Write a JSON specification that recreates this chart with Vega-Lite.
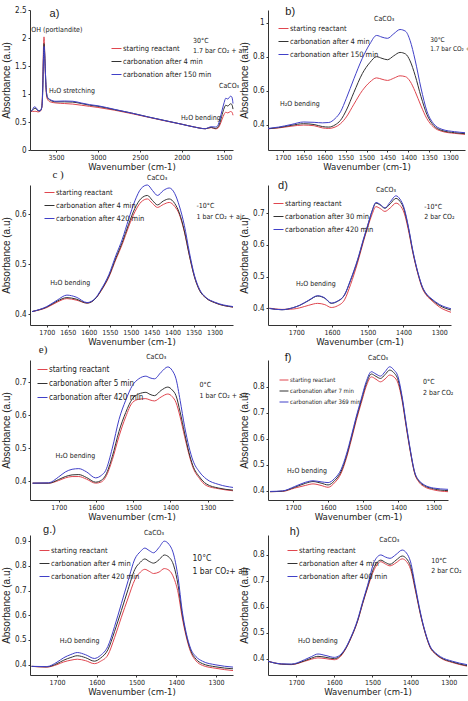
{
  "$schema": "https://vega.github.io/schema/vega-lite/v6.json",
  "background": "white",
  "padding": {"left": 1, "top": 6, "right": 0, "bottom": 0},
  "config": {
    "view": {"stroke": null},
    "axis": {
      "grid": false,
      "domainColor": "#333333",
      "tickColor": "#333333",
      "tickSize": 2,
      "labelOverlap": false,
      "labelFont": "Liberation Sans Narrow, Arial Narrow, DejaVu Sans Condensed, sans-serif",
      "labelFontSize": 8,
      "labelColor": "#222222",
      "titleColor": "#222222",
      "titleFontWeight": "normal"
    },
    "axisX": {
      "labelPadding": 1,
      "labelFontSize": 7,
      "format": "d",
      "titleFont": "Liberation Sans Narrow, Arial Narrow, DejaVu Sans Condensed, sans-serif",
      "titleFontSize": 9.5,
      "titlePadding": 1
    },
    "axisY": {
      "labelPadding": 2,
      "format": "~g",
      "titleFont": "Liberation Sans, Arial, sans-serif",
      "titleFontSize": 10,
      "titlePadding": 3
    },
    "legend": {
      "symbolType": "stroke",
      "symbolSize": 100,
      "symbolStrokeWidth": 1.1,
      "labelFont": "Liberation Sans Narrow, Arial Narrow, DejaVu Sans Condensed, sans-serif",
      "labelFontSize": 7.5,
      "labelColor": "#222222",
      "labelOffset": 1,
      "rowPadding": 4,
      "padding": 0,
      "labelLimit": 0
    },
    "line": {"strokeWidth": 1, "interpolate": "monotone", "clip": true},
    "text": {
      "font": "Liberation Sans Narrow, Arial Narrow, DejaVu Sans Condensed, sans-serif",
      "fontSize": 7,
      "color": "#222222"
    }
  },
  "datasets": {
    "a": [
      {"w": 3800, "r": 0.69, "k": 0.69, "b": 0.69},
      {"w": 3780, "r": 0.69, "k": 0.71, "b": 0.72},
      {"w": 3760, "r": 0.69, "k": 0.74, "b": 0.77},
      {"w": 3740, "r": 0.69, "k": 0.74, "b": 0.76},
      {"w": 3715, "r": 0.68, "k": 0.70, "b": 0.71},
      {"w": 3690, "r": 0.69, "k": 0.70, "b": 0.70},
      {"w": 3670, "r": 0.75, "k": 0.76, "b": 0.76},
      {"w": 3658, "r": 1.2, "k": 1.1, "b": 1.05},
      {"w": 3649, "r": 1.85, "k": 1.7, "b": 1.65},
      {"w": 3643, "r": 2.02, "k": 1.9, "b": 1.85},
      {"w": 3637, "r": 1.85, "k": 1.8, "b": 1.76},
      {"w": 3628, "r": 1.4, "k": 1.45, "b": 1.45},
      {"w": 3615, "r": 1.0, "k": 1.05, "b": 1.05},
      {"w": 3600, "r": 0.9, "k": 0.93, "b": 0.94},
      {"w": 3570, "r": 0.86, "k": 0.89, "b": 0.9},
      {"w": 3500, "r": 0.84, "k": 0.86, "b": 0.87},
      {"w": 3400, "r": 0.83, "k": 0.86, "b": 0.875},
      {"w": 3300, "r": 0.82, "k": 0.855, "b": 0.87},
      {"w": 3200, "r": 0.8, "k": 0.83, "b": 0.84},
      {"w": 3100, "r": 0.78, "k": 0.8, "b": 0.81},
      {"w": 3000, "r": 0.76, "k": 0.78, "b": 0.79},
      {"w": 2800, "r": 0.71, "k": 0.72, "b": 0.725},
      {"w": 2600, "r": 0.65, "k": 0.66, "b": 0.66},
      {"w": 2400, "r": 0.585, "k": 0.59, "b": 0.59},
      {"w": 2200, "r": 0.52, "k": 0.525, "b": 0.525},
      {"w": 2000, "r": 0.46, "k": 0.46, "b": 0.46},
      {"w": 1850, "r": 0.41, "k": 0.41, "b": 0.41},
      {"w": 1720, "r": 0.38, "k": 0.38, "b": 0.38},
      {"w": 1650, "r": 0.4, "k": 0.405, "b": 0.415},
      {"w": 1600, "r": 0.378, "k": 0.385, "b": 0.41},
      {"w": 1570, "r": 0.39, "k": 0.41, "b": 0.44},
      {"w": 1545, "r": 0.45, "k": 0.49, "b": 0.56},
      {"w": 1520, "r": 0.55, "k": 0.63, "b": 0.71},
      {"w": 1495, "r": 0.64, "k": 0.75, "b": 0.85},
      {"w": 1476, "r": 0.675, "k": 0.8, "b": 0.925},
      {"w": 1452, "r": 0.662, "k": 0.785, "b": 0.91},
      {"w": 1420, "r": 0.687, "k": 0.825, "b": 0.96},
      {"w": 1405, "r": 0.68, "k": 0.815, "b": 0.95},
      {"w": 1395, "r": 0.65, "k": 0.77, "b": 0.89},
      {"w": 1390, "r": 0.62, "k": 0.73, "b": 0.83}
    ],
    "b": [
      {"w": 1735, "r": 0.375, "k": 0.375, "b": 0.377},
      {"w": 1710, "r": 0.38, "k": 0.382, "b": 0.385},
      {"w": 1680, "r": 0.39, "k": 0.395, "b": 0.4},
      {"w": 1650, "r": 0.397, "k": 0.405, "b": 0.415},
      {"w": 1625, "r": 0.393, "k": 0.4, "b": 0.413},
      {"w": 1605, "r": 0.38, "k": 0.388, "b": 0.41},
      {"w": 1590, "r": 0.377, "k": 0.385, "b": 0.412},
      {"w": 1575, "r": 0.385, "k": 0.398, "b": 0.435},
      {"w": 1562, "r": 0.405, "k": 0.425, "b": 0.475},
      {"w": 1548, "r": 0.445, "k": 0.485, "b": 0.555},
      {"w": 1530, "r": 0.52, "k": 0.59, "b": 0.67},
      {"w": 1510, "r": 0.6, "k": 0.7, "b": 0.79},
      {"w": 1492, "r": 0.65, "k": 0.765, "b": 0.875},
      {"w": 1476, "r": 0.675, "k": 0.8, "b": 0.925},
      {"w": 1463, "r": 0.667, "k": 0.79, "b": 0.915},
      {"w": 1450, "r": 0.66, "k": 0.782, "b": 0.908},
      {"w": 1435, "r": 0.673, "k": 0.805, "b": 0.935},
      {"w": 1420, "r": 0.687, "k": 0.825, "b": 0.96},
      {"w": 1407, "r": 0.682, "k": 0.816, "b": 0.95},
      {"w": 1396, "r": 0.655, "k": 0.775, "b": 0.895},
      {"w": 1384, "r": 0.595, "k": 0.69, "b": 0.78},
      {"w": 1370, "r": 0.51, "k": 0.565, "b": 0.615},
      {"w": 1356, "r": 0.435, "k": 0.46, "b": 0.48},
      {"w": 1340, "r": 0.385, "k": 0.395, "b": 0.405},
      {"w": 1320, "r": 0.36, "k": 0.365, "b": 0.372},
      {"w": 1290, "r": 0.348, "k": 0.352, "b": 0.358},
      {"w": 1265, "r": 0.342, "k": 0.346, "b": 0.352}
    ],
    "c": [
      {"w": 1735, "r": 0.405, "k": 0.405, "b": 0.405},
      {"w": 1700, "r": 0.413, "k": 0.414, "b": 0.415},
      {"w": 1675, "r": 0.424, "k": 0.426, "b": 0.428},
      {"w": 1652, "r": 0.431, "k": 0.433, "b": 0.438},
      {"w": 1630, "r": 0.428, "k": 0.43, "b": 0.434},
      {"w": 1604, "r": 0.422, "k": 0.422, "b": 0.423},
      {"w": 1585, "r": 0.43, "k": 0.43, "b": 0.431},
      {"w": 1570, "r": 0.447, "k": 0.448, "b": 0.45},
      {"w": 1552, "r": 0.474, "k": 0.476, "b": 0.479},
      {"w": 1535, "r": 0.51, "k": 0.513, "b": 0.518},
      {"w": 1520, "r": 0.54, "k": 0.544, "b": 0.55},
      {"w": 1505, "r": 0.575, "k": 0.58, "b": 0.59},
      {"w": 1490, "r": 0.605, "k": 0.612, "b": 0.627},
      {"w": 1475, "r": 0.625, "k": 0.632, "b": 0.652},
      {"w": 1460, "r": 0.631, "k": 0.638, "b": 0.659},
      {"w": 1448, "r": 0.622, "k": 0.628, "b": 0.648},
      {"w": 1436, "r": 0.614, "k": 0.619, "b": 0.638},
      {"w": 1422, "r": 0.62, "k": 0.627, "b": 0.648},
      {"w": 1408, "r": 0.624, "k": 0.631, "b": 0.653},
      {"w": 1395, "r": 0.616, "k": 0.622, "b": 0.642},
      {"w": 1384, "r": 0.6, "k": 0.603, "b": 0.617},
      {"w": 1372, "r": 0.565, "k": 0.567, "b": 0.578},
      {"w": 1360, "r": 0.517, "k": 0.518, "b": 0.524},
      {"w": 1348, "r": 0.475, "k": 0.475, "b": 0.478},
      {"w": 1336, "r": 0.448, "k": 0.448, "b": 0.45},
      {"w": 1320, "r": 0.432, "k": 0.432, "b": 0.433},
      {"w": 1300, "r": 0.423, "k": 0.423, "b": 0.424},
      {"w": 1256, "r": 0.414, "k": 0.414, "b": 0.415}
    ],
    "d": [
      {"w": 1775, "r": 0.401, "k": 0.4, "b": 0.4},
      {"w": 1740, "r": 0.397, "k": 0.396, "b": 0.396},
      {"w": 1710, "r": 0.398, "k": 0.402, "b": 0.402},
      {"w": 1690, "r": 0.402, "k": 0.41, "b": 0.41},
      {"w": 1665, "r": 0.41, "k": 0.425, "b": 0.426},
      {"w": 1640, "r": 0.416, "k": 0.439, "b": 0.44},
      {"w": 1620, "r": 0.412, "k": 0.432, "b": 0.433},
      {"w": 1602, "r": 0.403, "k": 0.416, "b": 0.417},
      {"w": 1585, "r": 0.408, "k": 0.422, "b": 0.423},
      {"w": 1565, "r": 0.427, "k": 0.442, "b": 0.443},
      {"w": 1548, "r": 0.475, "k": 0.488, "b": 0.49},
      {"w": 1528, "r": 0.545, "k": 0.552, "b": 0.555},
      {"w": 1512, "r": 0.61, "k": 0.615, "b": 0.618},
      {"w": 1500, "r": 0.655, "k": 0.66, "b": 0.662},
      {"w": 1488, "r": 0.695, "k": 0.705, "b": 0.706},
      {"w": 1477, "r": 0.72, "k": 0.731, "b": 0.733},
      {"w": 1465, "r": 0.714, "k": 0.725, "b": 0.727},
      {"w": 1452, "r": 0.705, "k": 0.715, "b": 0.716},
      {"w": 1437, "r": 0.716, "k": 0.729, "b": 0.735},
      {"w": 1421, "r": 0.731, "k": 0.746, "b": 0.754},
      {"w": 1410, "r": 0.724, "k": 0.737, "b": 0.744},
      {"w": 1398, "r": 0.7, "k": 0.71, "b": 0.715},
      {"w": 1386, "r": 0.645, "k": 0.652, "b": 0.656},
      {"w": 1374, "r": 0.576, "k": 0.58, "b": 0.583},
      {"w": 1360, "r": 0.51, "k": 0.513, "b": 0.515},
      {"w": 1347, "r": 0.463, "k": 0.466, "b": 0.468},
      {"w": 1335, "r": 0.44, "k": 0.443, "b": 0.445},
      {"w": 1323, "r": 0.427, "k": 0.43, "b": 0.432},
      {"w": 1300, "r": 0.405, "k": 0.41, "b": 0.413},
      {"w": 1267, "r": 0.388, "k": 0.395, "b": 0.399}
    ],
    "e": [
      {"w": 1770, "r": 0.394, "k": 0.394, "b": 0.394},
      {"w": 1727, "r": 0.394, "k": 0.394, "b": 0.395},
      {"w": 1700, "r": 0.402, "k": 0.405, "b": 0.413},
      {"w": 1682, "r": 0.41, "k": 0.414, "b": 0.428},
      {"w": 1664, "r": 0.414, "k": 0.419, "b": 0.436},
      {"w": 1646, "r": 0.414, "k": 0.42, "b": 0.438},
      {"w": 1625, "r": 0.406, "k": 0.411, "b": 0.428},
      {"w": 1601, "r": 0.394, "k": 0.397, "b": 0.41},
      {"w": 1585, "r": 0.398, "k": 0.403, "b": 0.418},
      {"w": 1574, "r": 0.412, "k": 0.418, "b": 0.432},
      {"w": 1556, "r": 0.465, "k": 0.475, "b": 0.5},
      {"w": 1538, "r": 0.536, "k": 0.551, "b": 0.587},
      {"w": 1520, "r": 0.595, "k": 0.608, "b": 0.645},
      {"w": 1502, "r": 0.638, "k": 0.65, "b": 0.69},
      {"w": 1485, "r": 0.648, "k": 0.664, "b": 0.71},
      {"w": 1466, "r": 0.65, "k": 0.669, "b": 0.718},
      {"w": 1455, "r": 0.646, "k": 0.663, "b": 0.713},
      {"w": 1443, "r": 0.643, "k": 0.659, "b": 0.71},
      {"w": 1425, "r": 0.655, "k": 0.675, "b": 0.73},
      {"w": 1407, "r": 0.664, "k": 0.685, "b": 0.746},
      {"w": 1395, "r": 0.656, "k": 0.676, "b": 0.735},
      {"w": 1385, "r": 0.638, "k": 0.659, "b": 0.71},
      {"w": 1374, "r": 0.595, "k": 0.61, "b": 0.645},
      {"w": 1362, "r": 0.536, "k": 0.546, "b": 0.566},
      {"w": 1350, "r": 0.48, "k": 0.486, "b": 0.503},
      {"w": 1340, "r": 0.443, "k": 0.448, "b": 0.464},
      {"w": 1322, "r": 0.408, "k": 0.413, "b": 0.428},
      {"w": 1304, "r": 0.387, "k": 0.392, "b": 0.407},
      {"w": 1270, "r": 0.377, "k": 0.379, "b": 0.39},
      {"w": 1232, "r": 0.371, "k": 0.373, "b": 0.381}
    ],
    "f": [
      {"w": 1765, "r": 0.396, "k": 0.396, "b": 0.397},
      {"w": 1730, "r": 0.397, "k": 0.398, "b": 0.399},
      {"w": 1695, "r": 0.41, "k": 0.413, "b": 0.416},
      {"w": 1665, "r": 0.42, "k": 0.428, "b": 0.432},
      {"w": 1643, "r": 0.426, "k": 0.435, "b": 0.438},
      {"w": 1620, "r": 0.42, "k": 0.429, "b": 0.434},
      {"w": 1600, "r": 0.413, "k": 0.422, "b": 0.431},
      {"w": 1582, "r": 0.43, "k": 0.438, "b": 0.446},
      {"w": 1563, "r": 0.467, "k": 0.474, "b": 0.482},
      {"w": 1548, "r": 0.525, "k": 0.532, "b": 0.54},
      {"w": 1534, "r": 0.595, "k": 0.603, "b": 0.61},
      {"w": 1520, "r": 0.67, "k": 0.678, "b": 0.685},
      {"w": 1506, "r": 0.736, "k": 0.745, "b": 0.752},
      {"w": 1492, "r": 0.8, "k": 0.81, "b": 0.818},
      {"w": 1477, "r": 0.838, "k": 0.849, "b": 0.858},
      {"w": 1464, "r": 0.829, "k": 0.84, "b": 0.849},
      {"w": 1451, "r": 0.819, "k": 0.832, "b": 0.841},
      {"w": 1438, "r": 0.83, "k": 0.847, "b": 0.858},
      {"w": 1425, "r": 0.845, "k": 0.864, "b": 0.877},
      {"w": 1413, "r": 0.838, "k": 0.854, "b": 0.865},
      {"w": 1401, "r": 0.813, "k": 0.826, "b": 0.838},
      {"w": 1390, "r": 0.75, "k": 0.758, "b": 0.766},
      {"w": 1378, "r": 0.646, "k": 0.652, "b": 0.658},
      {"w": 1366, "r": 0.548, "k": 0.552, "b": 0.556},
      {"w": 1354, "r": 0.467, "k": 0.47, "b": 0.473},
      {"w": 1340, "r": 0.43, "k": 0.434, "b": 0.437},
      {"w": 1326, "r": 0.415, "k": 0.419, "b": 0.422},
      {"w": 1300, "r": 0.403, "k": 0.407, "b": 0.41},
      {"w": 1259, "r": 0.396, "k": 0.4, "b": 0.405}
    ],
    "g": [
      {"w": 1764, "r": 0.393, "k": 0.393, "b": 0.393},
      {"w": 1726, "r": 0.39, "k": 0.391, "b": 0.392},
      {"w": 1700, "r": 0.4, "k": 0.404, "b": 0.41},
      {"w": 1683, "r": 0.411, "k": 0.418, "b": 0.428},
      {"w": 1665, "r": 0.418, "k": 0.429, "b": 0.441},
      {"w": 1649, "r": 0.422, "k": 0.436, "b": 0.449},
      {"w": 1628, "r": 0.416, "k": 0.428, "b": 0.44},
      {"w": 1606, "r": 0.404, "k": 0.414, "b": 0.425},
      {"w": 1590, "r": 0.414, "k": 0.427, "b": 0.438},
      {"w": 1572, "r": 0.439, "k": 0.46, "b": 0.474},
      {"w": 1555, "r": 0.51, "k": 0.535, "b": 0.555},
      {"w": 1538, "r": 0.592, "k": 0.619, "b": 0.647},
      {"w": 1521, "r": 0.67, "k": 0.705, "b": 0.74},
      {"w": 1504, "r": 0.744, "k": 0.786, "b": 0.828},
      {"w": 1490, "r": 0.775, "k": 0.815, "b": 0.858},
      {"w": 1479, "r": 0.786, "k": 0.828, "b": 0.872},
      {"w": 1468, "r": 0.778, "k": 0.818, "b": 0.862},
      {"w": 1457, "r": 0.769, "k": 0.811, "b": 0.853},
      {"w": 1443, "r": 0.775, "k": 0.825, "b": 0.875},
      {"w": 1430, "r": 0.789, "k": 0.844, "b": 0.9},
      {"w": 1418, "r": 0.782, "k": 0.835, "b": 0.887},
      {"w": 1406, "r": 0.751, "k": 0.8, "b": 0.844},
      {"w": 1395, "r": 0.69, "k": 0.72, "b": 0.75},
      {"w": 1385, "r": 0.592, "k": 0.606, "b": 0.619},
      {"w": 1375, "r": 0.515, "k": 0.523, "b": 0.53},
      {"w": 1364, "r": 0.453, "k": 0.46, "b": 0.467},
      {"w": 1350, "r": 0.415, "k": 0.422, "b": 0.432},
      {"w": 1334, "r": 0.397, "k": 0.404, "b": 0.414},
      {"w": 1300, "r": 0.385, "k": 0.391, "b": 0.399},
      {"w": 1257, "r": 0.376, "k": 0.383, "b": 0.39}
    ],
    "h": [
      {"w": 1774, "r": 0.39, "k": 0.39, "b": 0.39},
      {"w": 1739, "r": 0.379, "k": 0.379, "b": 0.38},
      {"w": 1713, "r": 0.377, "k": 0.378, "b": 0.379},
      {"w": 1678, "r": 0.39, "k": 0.392, "b": 0.396},
      {"w": 1660, "r": 0.398, "k": 0.402, "b": 0.408},
      {"w": 1643, "r": 0.403, "k": 0.409, "b": 0.418},
      {"w": 1622, "r": 0.4, "k": 0.405, "b": 0.412},
      {"w": 1600, "r": 0.396, "k": 0.4, "b": 0.405},
      {"w": 1586, "r": 0.405, "k": 0.409, "b": 0.413},
      {"w": 1574, "r": 0.428, "k": 0.43, "b": 0.433},
      {"w": 1556, "r": 0.48, "k": 0.482, "b": 0.485},
      {"w": 1539, "r": 0.544, "k": 0.546, "b": 0.55},
      {"w": 1526, "r": 0.61, "k": 0.613, "b": 0.618},
      {"w": 1513, "r": 0.672, "k": 0.676, "b": 0.682},
      {"w": 1495, "r": 0.745, "k": 0.755, "b": 0.775},
      {"w": 1478, "r": 0.774, "k": 0.78, "b": 0.8},
      {"w": 1466, "r": 0.765, "k": 0.771, "b": 0.792},
      {"w": 1454, "r": 0.758, "k": 0.764, "b": 0.787},
      {"w": 1438, "r": 0.77, "k": 0.78, "b": 0.802},
      {"w": 1422, "r": 0.785, "k": 0.796, "b": 0.819},
      {"w": 1411, "r": 0.775, "k": 0.786, "b": 0.808},
      {"w": 1400, "r": 0.745, "k": 0.756, "b": 0.773},
      {"w": 1387, "r": 0.66, "k": 0.666, "b": 0.675},
      {"w": 1374, "r": 0.569, "k": 0.572, "b": 0.577},
      {"w": 1361, "r": 0.495, "k": 0.497, "b": 0.5},
      {"w": 1348, "r": 0.441, "k": 0.443, "b": 0.446},
      {"w": 1335, "r": 0.418, "k": 0.42, "b": 0.423},
      {"w": 1322, "r": 0.403, "k": 0.405, "b": 0.408},
      {"w": 1290, "r": 0.385, "k": 0.387, "b": 0.39},
      {"w": 1252, "r": 0.371, "k": 0.373, "b": 0.377}
    ]
  },
  "columns": 2,
  "bounds": "flush",
  "spacing": {"row": 35, "column": 35},
  "resolve": {"scale": {"color": "independent"}, "legend": {"color": "independent"}},
  "concat": [
    {
      "width": 203, "height": 140,
      "layer": [
        {
          "data": {"name": "a"},
          "transform": [{"fold": ["r", "k", "b"], "as": ["s", "v"]}],
          "mark": "line",
          "encoding": {
            "x": {"field": "w", "type": "quantitative", "scale": {"domain": [1390, 3810], "reverse": true, "nice": false, "zero": false}, "axis": {"values": [3500, 3000, 2500, 2000, 1500], "tickCount": 20, "labelOverlap": false, "title": "Wavenumber (cm-1)"}},
            "y": {"field": "v", "type": "quantitative", "scale": {"domain": [0, 2.5], "nice": false, "zero": false}, "axis": {"values": [0, 0.5, 1, 1.5, 2, 2.5], "tickCount": 20, "labelOverlap": false, "title": "Absorbance (a.u)"}},
            "color": {"field": "s", "type": "nominal", "scale": {"domain": ["r", "k", "b"], "range": ["#e0464f", "#333333", "#4040c8"]},
              "legend": {"title": null, "orient": "none", "legendX": 81, "legendY": 33,
                "labelExpr": "datum.label == 'r' ? 'starting reactant' : datum.label == 'k' ? 'carbonation after 4 min' : 'carbonation after 150 min'"}}
          }
        },
        {"data": {"values": [{}]}, "mark": {"type": "text", "font": "Liberation Sans, Arial, sans-serif", "fontSize": 11}, "encoding": {"x": {"datum": 3519}, "y": {"datum": 2.43}, "text": {"value": "a)"}}},
        {"data": {"values": [{}]}, "mark": {"type": "text"}, "encoding": {"x": {"datum": 3490}, "y": {"datum": 2.15}, "text": {"value": "OH (portlandite)"}}},
        {"data": {"values": [{}]}, "mark": {"type": "text"}, "encoding": {"x": {"datum": 3310}, "y": {"datum": 1.06}, "text": {"value": "H₂O stretching"}}},
        {"data": {"values": [{}]}, "mark": {"type": "text", "align": "left"}, "encoding": {"x": {"datum": 1867}, "y": {"datum": 1.94}, "text": {"value": "30°C"}}},
        {"data": {"values": [{}]}, "mark": {"type": "text", "align": "left"}, "encoding": {"x": {"datum": 1867}, "y": {"datum": 1.76}, "text": {"value": "1.7 bar CO₂ + air"}}},
        {"data": {"values": [{}]}, "mark": {"type": "text"}, "encoding": {"x": {"datum": 1774}, "y": {"datum": 0.58}, "text": {"value": "H₂O bending"}}},
        {"data": {"values": [{}]}, "mark": {"type": "text"}, "encoding": {"x": {"datum": 1437}, "y": {"datum": 1.14}, "text": {"value": "CaCO₃"}}}
      ]
    },
    {
      "width": 197, "height": 140,
      "layer": [
        {
          "data": {"name": "b"},
          "transform": [{"fold": ["r", "k", "b"], "as": ["s", "v"]}],
          "mark": "line",
          "encoding": {
            "x": {"field": "w", "type": "quantitative", "scale": {"domain": [1265, 1735], "reverse": true, "nice": false, "zero": false}, "axis": {"values": [1700, 1650, 1600, 1550, 1500, 1450, 1400, 1350, 1300], "tickCount": 20, "labelOverlap": false, "title": "Wavenumber (cm-1)"}},
            "y": {"field": "v", "type": "quantitative", "scale": {"domain": [0.25, 1.075], "nice": false, "zero": false}, "axis": {"values": [0.4, 0.6, 0.8, 1], "tickCount": 20, "labelOverlap": false, "title": "Absorbance (a.u)"}},
            "color": {"field": "s", "type": "nominal", "scale": {"domain": ["r", "k", "b"], "range": ["#e0464f", "#333333", "#4040c8"]},
              "legend": {"title": null, "orient": "none", "legendX": 10, "legendY": 13,
                "labelExpr": "datum.label == 'r' ? 'starting reactant' : datum.label == 'k' ? 'carbonation after 4 min' : 'carbonation after 150 min'"}}
          }
        },
        {"data": {"values": [{}]}, "mark": {"type": "text", "font": "Liberation Sans, Arial, sans-serif", "fontSize": 11}, "encoding": {"x": {"datum": 1682}, "y": {"datum": 1.063}, "text": {"value": "b)"}}},
        {"data": {"values": [{}]}, "mark": {"type": "text"}, "encoding": {"x": {"datum": 1458}, "y": {"datum": 1.023}, "text": {"value": "CaCO₃"}}},
        {"data": {"values": [{}]}, "mark": {"type": "text", "align": "left", "fontSize": 6.5}, "encoding": {"x": {"datum": 1348}, "y": {"datum": 0.901}, "text": {"value": "30°C"}}},
        {"data": {"values": [{}]}, "mark": {"type": "text", "align": "left", "fontSize": 6.5}, "encoding": {"x": {"datum": 1348}, "y": {"datum": 0.843}, "text": {"value": "1.7 bar CO₂ + air"}}},
        {"data": {"values": [{}]}, "mark": {"type": "text"}, "encoding": {"x": {"datum": 1659}, "y": {"datum": 0.523}, "text": {"value": "H₂O bending"}}}
      ]
    },
    {
      "width": 203, "height": 140,
      "layer": [
        {
          "data": {"name": "c"},
          "transform": [{"fold": ["r", "k", "b"], "as": ["s", "v"]}],
          "mark": "line",
          "encoding": {
            "x": {"field": "w", "type": "quantitative", "scale": {"domain": [1256, 1740], "reverse": true, "nice": false, "zero": false}, "axis": {"values": [1700, 1650, 1600, 1550, 1500, 1450, 1400, 1350, 1300], "tickCount": 20, "labelOverlap": false, "title": "Wavenumber (cm-1)"}},
            "y": {"field": "v", "type": "quantitative", "scale": {"domain": [0.378, 0.659], "nice": false, "zero": false}, "axis": {"values": [0.4, 0.5, 0.6], "tickCount": 20, "labelOverlap": false, "title": "Absorbance (a.u)"}},
            "color": {"field": "s", "type": "nominal", "scale": {"domain": ["r", "k", "b"], "range": ["#e0464f", "#333333", "#4040c8"]},
              "legend": {"title": null, "orient": "none", "legendX": 14, "legendY": 2,
                "labelExpr": "datum.label == 'r' ? 'starting reactant' : datum.label == 'k' ? 'carbonation after 4 min' : 'carbonation after 420 min'"}}
          }
        },
        {"data": {"values": [{}]}, "mark": {"type": "text", "font": "Liberation Serif, Times New Roman, serif", "fontSize": 11}, "encoding": {"x": {"datum": 1673}, "y": {"datum": 0.68}, "text": {"value": "c )"}}},
        {"data": {"values": [{}]}, "mark": {"type": "text"}, "encoding": {"x": {"datum": 1437}, "y": {"datum": 0.6735}, "text": {"value": "CaCO₃"}}},
        {"data": {"values": [{}]}, "mark": {"type": "text", "align": "left"}, "encoding": {"x": {"datum": 1343}, "y": {"datum": 0.617}, "text": {"value": "-10°C"}}},
        {"data": {"values": [{}]}, "mark": {"type": "text", "align": "left"}, "encoding": {"x": {"datum": 1343}, "y": {"datum": 0.594}, "text": {"value": "1 bar CO₂ + air"}}},
        {"data": {"values": [{}]}, "mark": {"type": "text"}, "encoding": {"x": {"datum": 1644}, "y": {"datum": 0.463}, "text": {"value": "H₂O bending"}}}
      ]
    },
    {
      "width": 183, "height": 140,
      "layer": [
        {
          "data": {"name": "d"},
          "transform": [{"fold": ["r", "k", "b"], "as": ["s", "v"]}],
          "mark": "line",
          "encoding": {
            "x": {"field": "w", "type": "quantitative", "scale": {"domain": [1267, 1779], "reverse": true, "nice": false, "zero": false}, "axis": {"values": [1700, 1600, 1500, 1400, 1300], "tickCount": 20, "labelOverlap": false, "title": "Wavenumber (cm-1)"}},
            "y": {"field": "v", "type": "quantitative", "scale": {"domain": [0.348, 0.788], "nice": false, "zero": false}, "axis": {"values": [0.4, 0.5, 0.6, 0.7], "tickCount": 20, "labelOverlap": false, "title": "Absorbance (a.u)"}},
            "color": {"field": "s", "type": "nominal", "scale": {"domain": ["r", "k", "b"], "range": ["#e0464f", "#333333", "#4040c8"]},
              "legend": {"title": null, "orient": "none", "legendX": 5, "legendY": 13,
                "labelExpr": "datum.label == 'r' ? 'starting reactant' : datum.label == 'k' ? 'carbonation after 30 min' : 'carbonation after 420 min'"}}
          }
        },
        {"data": {"values": [{}]}, "mark": {"type": "text", "font": "Liberation Sans, Arial, sans-serif", "fontSize": 11}, "encoding": {"x": {"datum": 1737}, "y": {"datum": 0.785}, "text": {"value": "d)"}}},
        {"data": {"values": [{}]}, "mark": {"type": "text"}, "encoding": {"x": {"datum": 1449}, "y": {"datum": 0.773}, "text": {"value": "CaCO₃"}}},
        {"data": {"values": [{}]}, "mark": {"type": "text", "align": "left"}, "encoding": {"x": {"datum": 1342}, "y": {"datum": 0.72}, "text": {"value": "-10°C"}}},
        {"data": {"values": [{}]}, "mark": {"type": "text", "align": "left"}, "encoding": {"x": {"datum": 1342}, "y": {"datum": 0.689}, "text": {"value": "2 bar CO₂"}}},
        {"data": {"values": [{}]}, "mark": {"type": "text"}, "encoding": {"x": {"datum": 1645}, "y": {"datum": 0.478}, "text": {"value": "H₂O bending"}}}
      ]
    },
    {
      "width": 203, "height": 140,
      "layer": [
        {
          "data": {"name": "e"},
          "transform": [{"fold": ["r", "k", "b"], "as": ["s", "v"]}],
          "mark": "line",
          "encoding": {
            "x": {"field": "w", "type": "quantitative", "scale": {"domain": [1232, 1777], "reverse": true, "nice": false, "zero": false}, "axis": {"values": [1700, 1600, 1500, 1400, 1300], "tickCount": 20, "labelOverlap": false, "title": "Wavenumber (cm-1)"}},
            "y": {"field": "v", "type": "quantitative", "scale": {"domain": [0.343, 0.767], "nice": false, "zero": false}, "axis": {"values": [0.4, 0.5, 0.6, 0.7], "tickCount": 20, "labelOverlap": false, "title": "Absorbance (a.u)"}},
            "color": {"field": "s", "type": "nominal", "scale": {"domain": ["r", "k", "b"], "range": ["#e0464f", "#333333", "#4040c8"]},
              "legend": {"title": null, "orient": "none", "legendX": 7, "legendY": 4, "labelFontSize": 8,
                "labelExpr": "datum.label == 'r' ? 'starting reactant' : datum.label == 'k' ? 'carbonation after 5 min' : 'carbonation after 420 min'"}}
          }
        },
        {"data": {"values": [{}]}, "mark": {"type": "text", "font": "Liberation Serif, Times New Roman, serif", "fontSize": 11}, "encoding": {"x": {"datum": 1742}, "y": {"datum": 0.798}, "text": {"value": "e)"}}},
        {"data": {"values": [{}]}, "mark": {"type": "text"}, "encoding": {"x": {"datum": 1438}, "y": {"datum": 0.776}, "text": {"value": "CaCO₃"}}},
        {"data": {"values": [{}]}, "mark": {"type": "text", "align": "left"}, "encoding": {"x": {"datum": 1322}, "y": {"datum": 0.69}, "text": {"value": "0°C"}}},
        {"data": {"values": [{}]}, "mark": {"type": "text", "align": "left"}, "encoding": {"x": {"datum": 1322}, "y": {"datum": 0.659}, "text": {"value": "1 bar CO₂ + air"}}},
        {"data": {"values": [{}]}, "mark": {"type": "text"}, "encoding": {"x": {"datum": 1655}, "y": {"datum": 0.476}, "text": {"value": "H₂O bending"}}}
      ]
    },
    {
      "width": 180, "height": 140,
      "layer": [
        {
          "data": {"name": "f"},
          "transform": [{"fold": ["r", "k", "b"], "as": ["s", "v"]}],
          "mark": "line",
          "encoding": {
            "x": {"field": "w", "type": "quantitative", "scale": {"domain": [1259, 1771], "reverse": true, "nice": false, "zero": false}, "axis": {"values": [1700, 1600, 1500, 1400, 1300], "tickCount": 20, "labelOverlap": false, "title": "Wavenumber (cm-1)"}},
            "y": {"field": "v", "type": "quantitative", "scale": {"domain": [0.364, 0.903], "nice": false, "zero": false}, "axis": {"values": [0.4, 0.5, 0.6, 0.7, 0.8], "tickCount": 20, "labelOverlap": false, "title": "Absorbance (a.u)"}},
            "color": {"field": "s", "type": "nominal", "scale": {"domain": ["r", "k", "b"], "range": ["#e0464f", "#333333", "#4040c8"]},
              "legend": {"title": null, "orient": "none", "legendX": 11, "legendY": 15, "labelFontSize": 6, "symbolSize": 80, "rowPadding": 3,
                "labelExpr": "datum.label == 'r' ? 'starting reactant' : datum.label == 'k' ? 'carbonation after 7 min' : 'carbonation after 369 min'"}}
          }
        },
        {"data": {"values": [{}]}, "mark": {"type": "text", "font": "Liberation Sans, Arial, sans-serif", "fontSize": 11}, "encoding": {"x": {"datum": 1714}, "y": {"datum": 0.911}, "text": {"value": "f)"}}},
        {"data": {"values": [{}]}, "mark": {"type": "text"}, "encoding": {"x": {"datum": 1458}, "y": {"datum": 0.911}, "text": {"value": "CaCO₃"}}},
        {"data": {"values": [{}]}, "mark": {"type": "text", "align": "left"}, "encoding": {"x": {"datum": 1330}, "y": {"datum": 0.818}, "text": {"value": "0°C"}}},
        {"data": {"values": [{}]}, "mark": {"type": "text", "align": "left"}, "encoding": {"x": {"datum": 1330}, "y": {"datum": 0.776}, "text": {"value": "2 bar CO₂"}}},
        {"data": {"values": [{}]}, "mark": {"type": "text"}, "encoding": {"x": {"datum": 1660}, "y": {"datum": 0.476}, "text": {"value": "H₂O bending"}}}
      ]
    },
    {
      "width": 203, "height": 140,
      "layer": [
        {
          "data": {"name": "g"},
          "transform": [{"fold": ["r", "k", "b"], "as": ["s", "v"]}],
          "mark": "line",
          "encoding": {
            "x": {"field": "w", "type": "quantitative", "scale": {"domain": [1257, 1768], "reverse": true, "nice": false, "zero": false}, "axis": {"values": [1700, 1600, 1500, 1400, 1300], "tickCount": 20, "labelOverlap": false, "title": "Wavenumber (cm-1)"}},
            "y": {"field": "v", "type": "quantitative", "scale": {"domain": [0.358, 0.925], "nice": false, "zero": false}, "axis": {"values": [0.4, 0.5, 0.6, 0.7, 0.8, 0.9], "tickCount": 20, "labelOverlap": false, "title": "Absorbance (a.u)"}},
            "color": {"field": "s", "type": "nominal", "scale": {"domain": ["r", "k", "b"], "range": ["#e0464f", "#333333", "#4040c8"]},
              "legend": {"title": null, "orient": "none", "legendX": 9, "legendY": 10,
                "labelExpr": "datum.label == 'r' ? 'starting reactant' : datum.label == 'k' ? 'carbonation after 4 min' : 'carbonation after 420 min'"}}
          }
        },
        {"data": {"values": [{}]}, "mark": {"type": "text", "font": "Liberation Sans, Arial, sans-serif", "fontSize": 11}, "encoding": {"x": {"datum": 1719}, "y": {"datum": 0.946}, "text": {"value": "g.)"}}},
        {"data": {"values": [{}]}, "mark": {"type": "text"}, "encoding": {"x": {"datum": 1456}, "y": {"datum": 0.933}, "text": {"value": "CaCO₃"}}},
        {"data": {"values": [{}]}, "mark": {"type": "text", "align": "left", "fontSize": 8.5}, "encoding": {"x": {"datum": 1359}, "y": {"datum": 0.833}, "text": {"value": "10°C"}}},
        {"data": {"values": [{}]}, "mark": {"type": "text", "align": "left", "fontSize": 8.5}, "encoding": {"x": {"datum": 1359}, "y": {"datum": 0.779}, "text": {"value": "1 bar CO₂+ air"}}},
        {"data": {"values": [{}]}, "mark": {"type": "text"}, "encoding": {"x": {"datum": 1643}, "y": {"datum": 0.496}, "text": {"value": "H₂O bending"}}}
      ]
    },
    {
      "width": 199, "height": 140,
      "layer": [
        {
          "data": {"name": "h"},
          "transform": [{"fold": ["r", "k", "b"], "as": ["s", "v"]}],
          "mark": "line",
          "encoding": {
            "x": {"field": "w", "type": "quantitative", "scale": {"domain": [1252, 1774], "reverse": true, "nice": false, "zero": false}, "axis": {"values": [1700, 1600, 1500, 1400, 1300], "tickCount": 20, "labelOverlap": false, "title": "Wavenumber (cm-1)"}},
            "y": {"field": "v", "type": "quantitative", "scale": {"domain": [0.337, 0.877], "nice": false, "zero": false}, "axis": {"values": [0.4, 0.5, 0.6, 0.7, 0.8], "tickCount": 20, "labelOverlap": false, "title": "Absorbance (a.u)"}},
            "color": {"field": "s", "type": "nominal", "scale": {"domain": ["r", "k", "b"], "range": ["#e0464f", "#333333", "#4040c8"]},
              "legend": {"title": null, "orient": "none", "legendX": 19, "legendY": 10,
                "labelExpr": "datum.label == 'r' ? 'starting reactant' : datum.label == 'k' ? 'carbonation after 4 min' : 'carbonation after 400 min'"}}
          }
        },
        {"data": {"values": [{}]}, "mark": {"type": "text", "font": "Liberation Sans, Arial, sans-serif", "fontSize": 11}, "encoding": {"x": {"datum": 1704}, "y": {"datum": 0.889}, "text": {"value": "h)"}}},
        {"data": {"values": [{}]}, "mark": {"type": "text"}, "encoding": {"x": {"datum": 1456}, "y": {"datum": 0.858}, "text": {"value": "CaCO₃"}}},
        {"data": {"values": [{}]}, "mark": {"type": "text", "align": "left"}, "encoding": {"x": {"datum": 1346}, "y": {"datum": 0.777}, "text": {"value": "10°C"}}},
        {"data": {"values": [{}]}, "mark": {"type": "text", "align": "left"}, "encoding": {"x": {"datum": 1346}, "y": {"datum": 0.739}, "text": {"value": "2 bar CO₂"}}},
        {"data": {"values": [{}]}, "mark": {"type": "text"}, "encoding": {"x": {"datum": 1643}, "y": {"datum": 0.467}, "text": {"value": "H₂O bending"}}}
      ]
    }
  ]
}
